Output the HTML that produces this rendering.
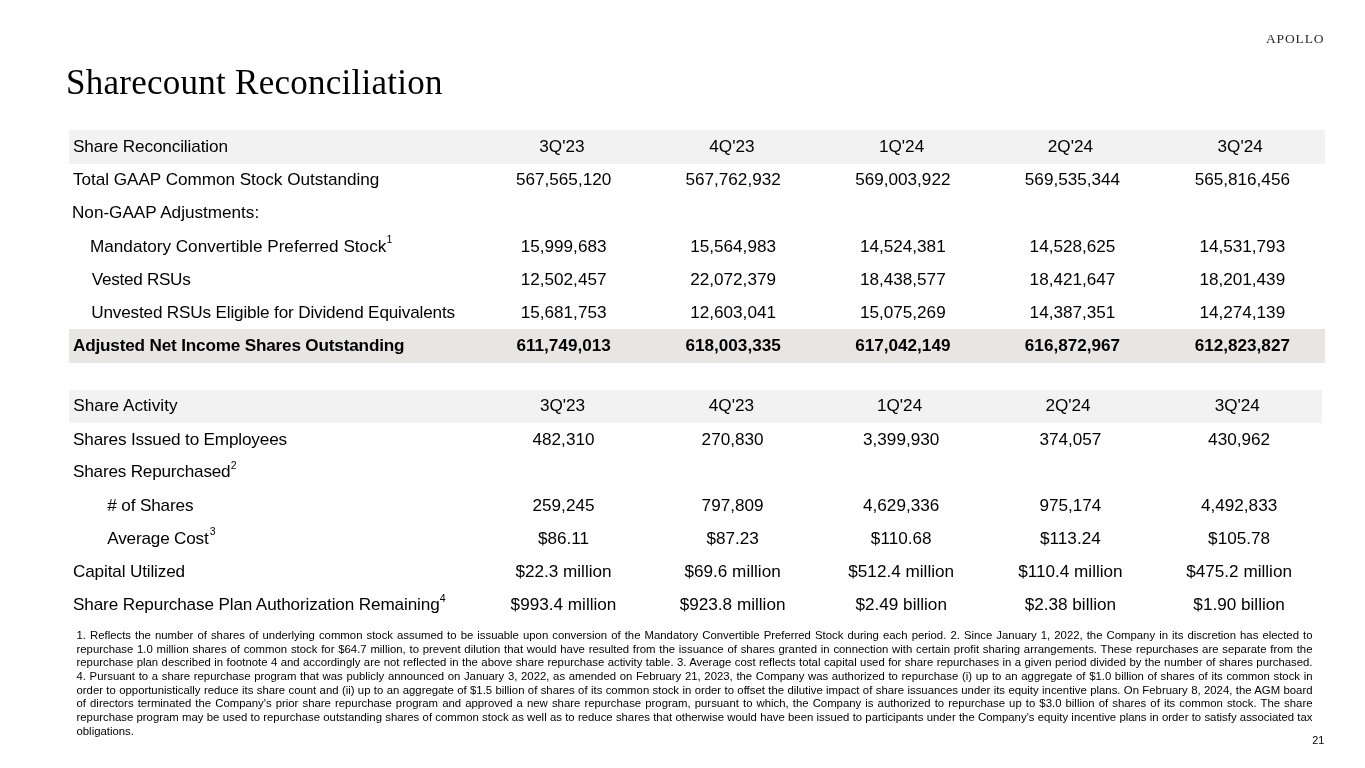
<!DOCTYPE html>
<html><head><meta charset="utf-8"><title>Sharecount Reconciliation</title>
<style>
html,body{margin:0;padding:0;background:#fff;}
body{width:1365px;height:768px;overflow:hidden;font-variant-ligatures:none;font-family:"Liberation Sans",Arial,sans-serif;color:#000;}
.page{position:relative;width:1365px;height:768px;overflow:hidden;will-change:transform;}
.logo{position:absolute;left:1266px;top:31.4px;font-family:"Liberation Serif","Times New Roman",serif;font-size:13.5px;letter-spacing:0.85px;color:#2a2a2a;line-height:16px;white-space:nowrap;}
h1{position:absolute;margin:0;left:66px;top:61px;font-family:"Liberation Serif","Times New Roman",serif;font-weight:normal;font-size:35px;line-height:44px;letter-spacing:0.26px;color:#000;white-space:nowrap;}
.bg{position:absolute;}
.h1bg{left:69.2px;top:129.8px;width:1255.8px;height:33.8px;background:#f2f2f2;}
.totbg{left:69.1px;top:329.2px;width:1255.9px;height:34px;background:#e7e6e3;}
.h2bg{left:69.1px;top:389.8px;width:1252.6px;height:33.2px;background:#f2f2f2;}
.c{position:absolute;font-size:17.15px;line-height:20px;white-space:nowrap;}
.n{width:160px;text-align:center;}
.b{font-weight:bold;}
sup{font-size:10.6px;position:relative;top:-8.8px;vertical-align:baseline;line-height:0;margin-left:0.3px;letter-spacing:0;}
.fl{position:absolute;left:76.5px;width:1236px;font-size:11.35px;line-height:13.64px;text-align:justify;text-align-last:justify;white-space:nowrap;}
.fl.last{text-align-last:left;}
.pg{position:absolute;left:1312.3px;top:734.2px;font-size:10.8px;line-height:13px;}
</style></head>
<body>
<div class="page">
<div class="logo">APOLLO</div>
<h1>Sharecount Reconciliation</h1>
<div class="bg h1bg"></div>
<div class="bg totbg"></div>
<div class="bg h2bg"></div>
<div class="c" style="left:73.0px;top:136.06px;letter-spacing:-0.121px">Share Reconciliation</div>
<div class="c n" style="left:481.9px;top:136.06px">3Q'23</div>
<div class="c n" style="left:651.9px;top:136.06px">4Q'23</div>
<div class="c n" style="left:821.6px;top:136.06px">1Q'24</div>
<div class="c n" style="left:990.4px;top:136.06px">2Q'24</div>
<div class="c n" style="left:1160.2px;top:136.06px">3Q'24</div>
<div class="c" style="left:73.0px;top:169.46px;letter-spacing:-0.035px">Total GAAP Common Stock Outstanding</div>
<div class="c n" style="left:483.6px;top:169.46px">567,565,120</div>
<div class="c n" style="left:653.1px;top:169.46px">567,762,932</div>
<div class="c n" style="left:822.8px;top:169.46px">569,003,922</div>
<div class="c n" style="left:992.5px;top:169.46px">569,535,344</div>
<div class="c n" style="left:1162.3px;top:169.46px">565,816,456</div>
<div class="c" style="left:72.0px;top:202.36px;letter-spacing:-0.010px">Non-GAAP Adjustments:</div>
<div class="c" style="left:90.0px;top:235.66px">Mandatory Convertible Preferred Stock<sup>1</sup></div>
<div class="c n" style="left:483.6px;top:235.66px">15,999,683</div>
<div class="c n" style="left:653.1px;top:235.66px">15,564,983</div>
<div class="c n" style="left:822.8px;top:235.66px">14,524,381</div>
<div class="c n" style="left:992.5px;top:235.66px">14,528,625</div>
<div class="c n" style="left:1162.3px;top:235.66px">14,531,793</div>
<div class="c" style="left:91.8px;top:268.76px;letter-spacing:-0.300px">Vested RSUs</div>
<div class="c n" style="left:483.6px;top:268.76px">12,502,457</div>
<div class="c n" style="left:653.1px;top:268.76px">22,072,379</div>
<div class="c n" style="left:822.8px;top:268.76px">18,438,577</div>
<div class="c n" style="left:992.5px;top:268.76px">18,421,647</div>
<div class="c n" style="left:1162.3px;top:268.76px">18,201,439</div>
<div class="c" style="left:91.2px;top:301.66px;letter-spacing:-0.167px">Unvested RSUs Eligible for Dividend Equivalents</div>
<div class="c n" style="left:483.6px;top:301.66px">15,681,753</div>
<div class="c n" style="left:653.1px;top:301.66px">12,603,041</div>
<div class="c n" style="left:822.8px;top:301.66px">15,075,269</div>
<div class="c n" style="left:992.5px;top:301.66px">14,387,351</div>
<div class="c n" style="left:1162.3px;top:301.66px">14,274,139</div>
<div class="c b" style="left:73.0px;top:335.26px;letter-spacing:-0.178px">Adjusted Net Income Shares Outstanding</div>
<div class="c n b" style="left:483.6px;top:335.26px">611,749,013</div>
<div class="c n b" style="left:653.1px;top:335.26px">618,003,335</div>
<div class="c n b" style="left:822.8px;top:335.26px">617,042,149</div>
<div class="c n b" style="left:992.5px;top:335.26px">616,872,967</div>
<div class="c n b" style="left:1162.3px;top:335.26px">612,823,827</div>
<div class="c" style="left:73.3px;top:395.06px;letter-spacing:0.027px">Share Activity</div>
<div class="c n" style="left:482.5px;top:395.06px">3Q'23</div>
<div class="c n" style="left:651.4px;top:395.06px">4Q'23</div>
<div class="c n" style="left:819.6px;top:395.06px">1Q'24</div>
<div class="c n" style="left:988.0px;top:395.06px">2Q'24</div>
<div class="c n" style="left:1157.3px;top:395.06px">3Q'24</div>
<div class="c" style="left:73.0px;top:428.56px;letter-spacing:-0.164px">Shares Issued to Employees</div>
<div class="c n" style="left:483.5px;top:428.56px">482,310</div>
<div class="c n" style="left:652.6px;top:428.56px">270,830</div>
<div class="c n" style="left:821.2px;top:428.56px">3,399,930</div>
<div class="c n" style="left:990.4px;top:428.56px">374,057</div>
<div class="c n" style="left:1159.1px;top:428.56px">430,962</div>
<div class="c" style="left:73.0px;top:461.36px;letter-spacing:-0.200px">Shares Repurchased<sup>2</sup></div>
<div class="c" style="left:107.3px;top:494.56px;letter-spacing:-0.150px"># of Shares</div>
<div class="c n" style="left:483.5px;top:494.56px">259,245</div>
<div class="c n" style="left:652.6px;top:494.56px">797,809</div>
<div class="c n" style="left:821.2px;top:494.56px">4,629,336</div>
<div class="c n" style="left:990.4px;top:494.56px">975,174</div>
<div class="c n" style="left:1159.1px;top:494.56px">4,492,833</div>
<div class="c" style="left:107.3px;top:527.76px;letter-spacing:-0.191px">Average Cost<sup style="margin-left:1.1px">3</sup></div>
<div class="c n" style="left:483.5px;top:527.76px">$86.11</div>
<div class="c n" style="left:652.6px;top:527.76px">$87.23</div>
<div class="c n" style="left:821.2px;top:527.76px">$110.68</div>
<div class="c n" style="left:990.4px;top:527.76px">$113.24</div>
<div class="c n" style="left:1159.1px;top:527.76px">$105.78</div>
<div class="c" style="left:73.0px;top:560.66px;letter-spacing:-0.147px">Capital Utilized</div>
<div class="c n" style="left:483.5px;top:560.66px">$22.3 million</div>
<div class="c n" style="left:652.6px;top:560.66px">$69.6 million</div>
<div class="c n" style="left:821.2px;top:560.66px">$512.4 million</div>
<div class="c n" style="left:990.4px;top:560.66px">$110.4 million</div>
<div class="c n" style="left:1159.1px;top:560.66px">$475.2 million</div>
<div class="c" style="left:73.0px;top:593.86px;letter-spacing:-0.134px">Share Repurchase Plan Authorization Remaining<sup style="top:-8.2px">4</sup></div>
<div class="c n" style="left:483.5px;top:593.86px">$993.4 million</div>
<div class="c n" style="left:652.6px;top:593.86px">$923.8 million</div>
<div class="c n" style="left:821.2px;top:593.86px">$2.49 billion</div>
<div class="c n" style="left:990.4px;top:593.86px">$2.38 billion</div>
<div class="c n" style="left:1159.1px;top:593.86px">$1.90 billion</div>
<div class="fl" style="top:629.05px">1. Reflects the number of shares of underlying common stock assumed to be issuable upon conversion of the Mandatory Convertible Preferred Stock during each period. 2. Since January 1, 2022, the Company in its discretion has elected to</div>
<div class="fl" style="top:642.69px">repurchase 1.0 million shares of common stock for $64.7 million, to prevent dilution that would have resulted from the issuance of shares granted in connection with certain profit sharing arrangements. These repurchases are separate from the</div>
<div class="fl" style="top:656.33px">repurchase plan described in footnote 4 and accordingly are not reflected in the above share repurchase activity table. 3. Average cost reflects total capital used for share repurchases in a given period divided by the number of shares purchased.</div>
<div class="fl" style="top:669.97px">4. Pursuant to a share repurchase program that was publicly announced on January 3, 2022, as amended on February 21, 2023, the Company was authorized to repurchase (i) up to an aggregate of $1.0 billion of shares of its common stock in</div>
<div class="fl" style="top:683.61px">order to opportunistically reduce its share count and (ii) up to an aggregate of $1.5 billion of shares of its common stock in order to offset the dilutive impact of share issuances under its equity incentive plans. On February 8, 2024, the AGM board</div>
<div class="fl" style="top:697.25px">of directors terminated the Company's prior share repurchase program and approved a new share repurchase program, pursuant to which, the Company is authorized to repurchase up to $3.0 billion of shares of its common stock. The share</div>
<div class="fl" style="top:710.89px">repurchase program may be used to repurchase outstanding shares of common stock as well as to reduce shares that otherwise would have been issued to participants under the Company’s equity incentive plans in order to satisfy associated tax</div>
<div class="fl last" style="top:724.53px">obligations.</div>
<div class="pg">21</div>
</div>
</body></html>
